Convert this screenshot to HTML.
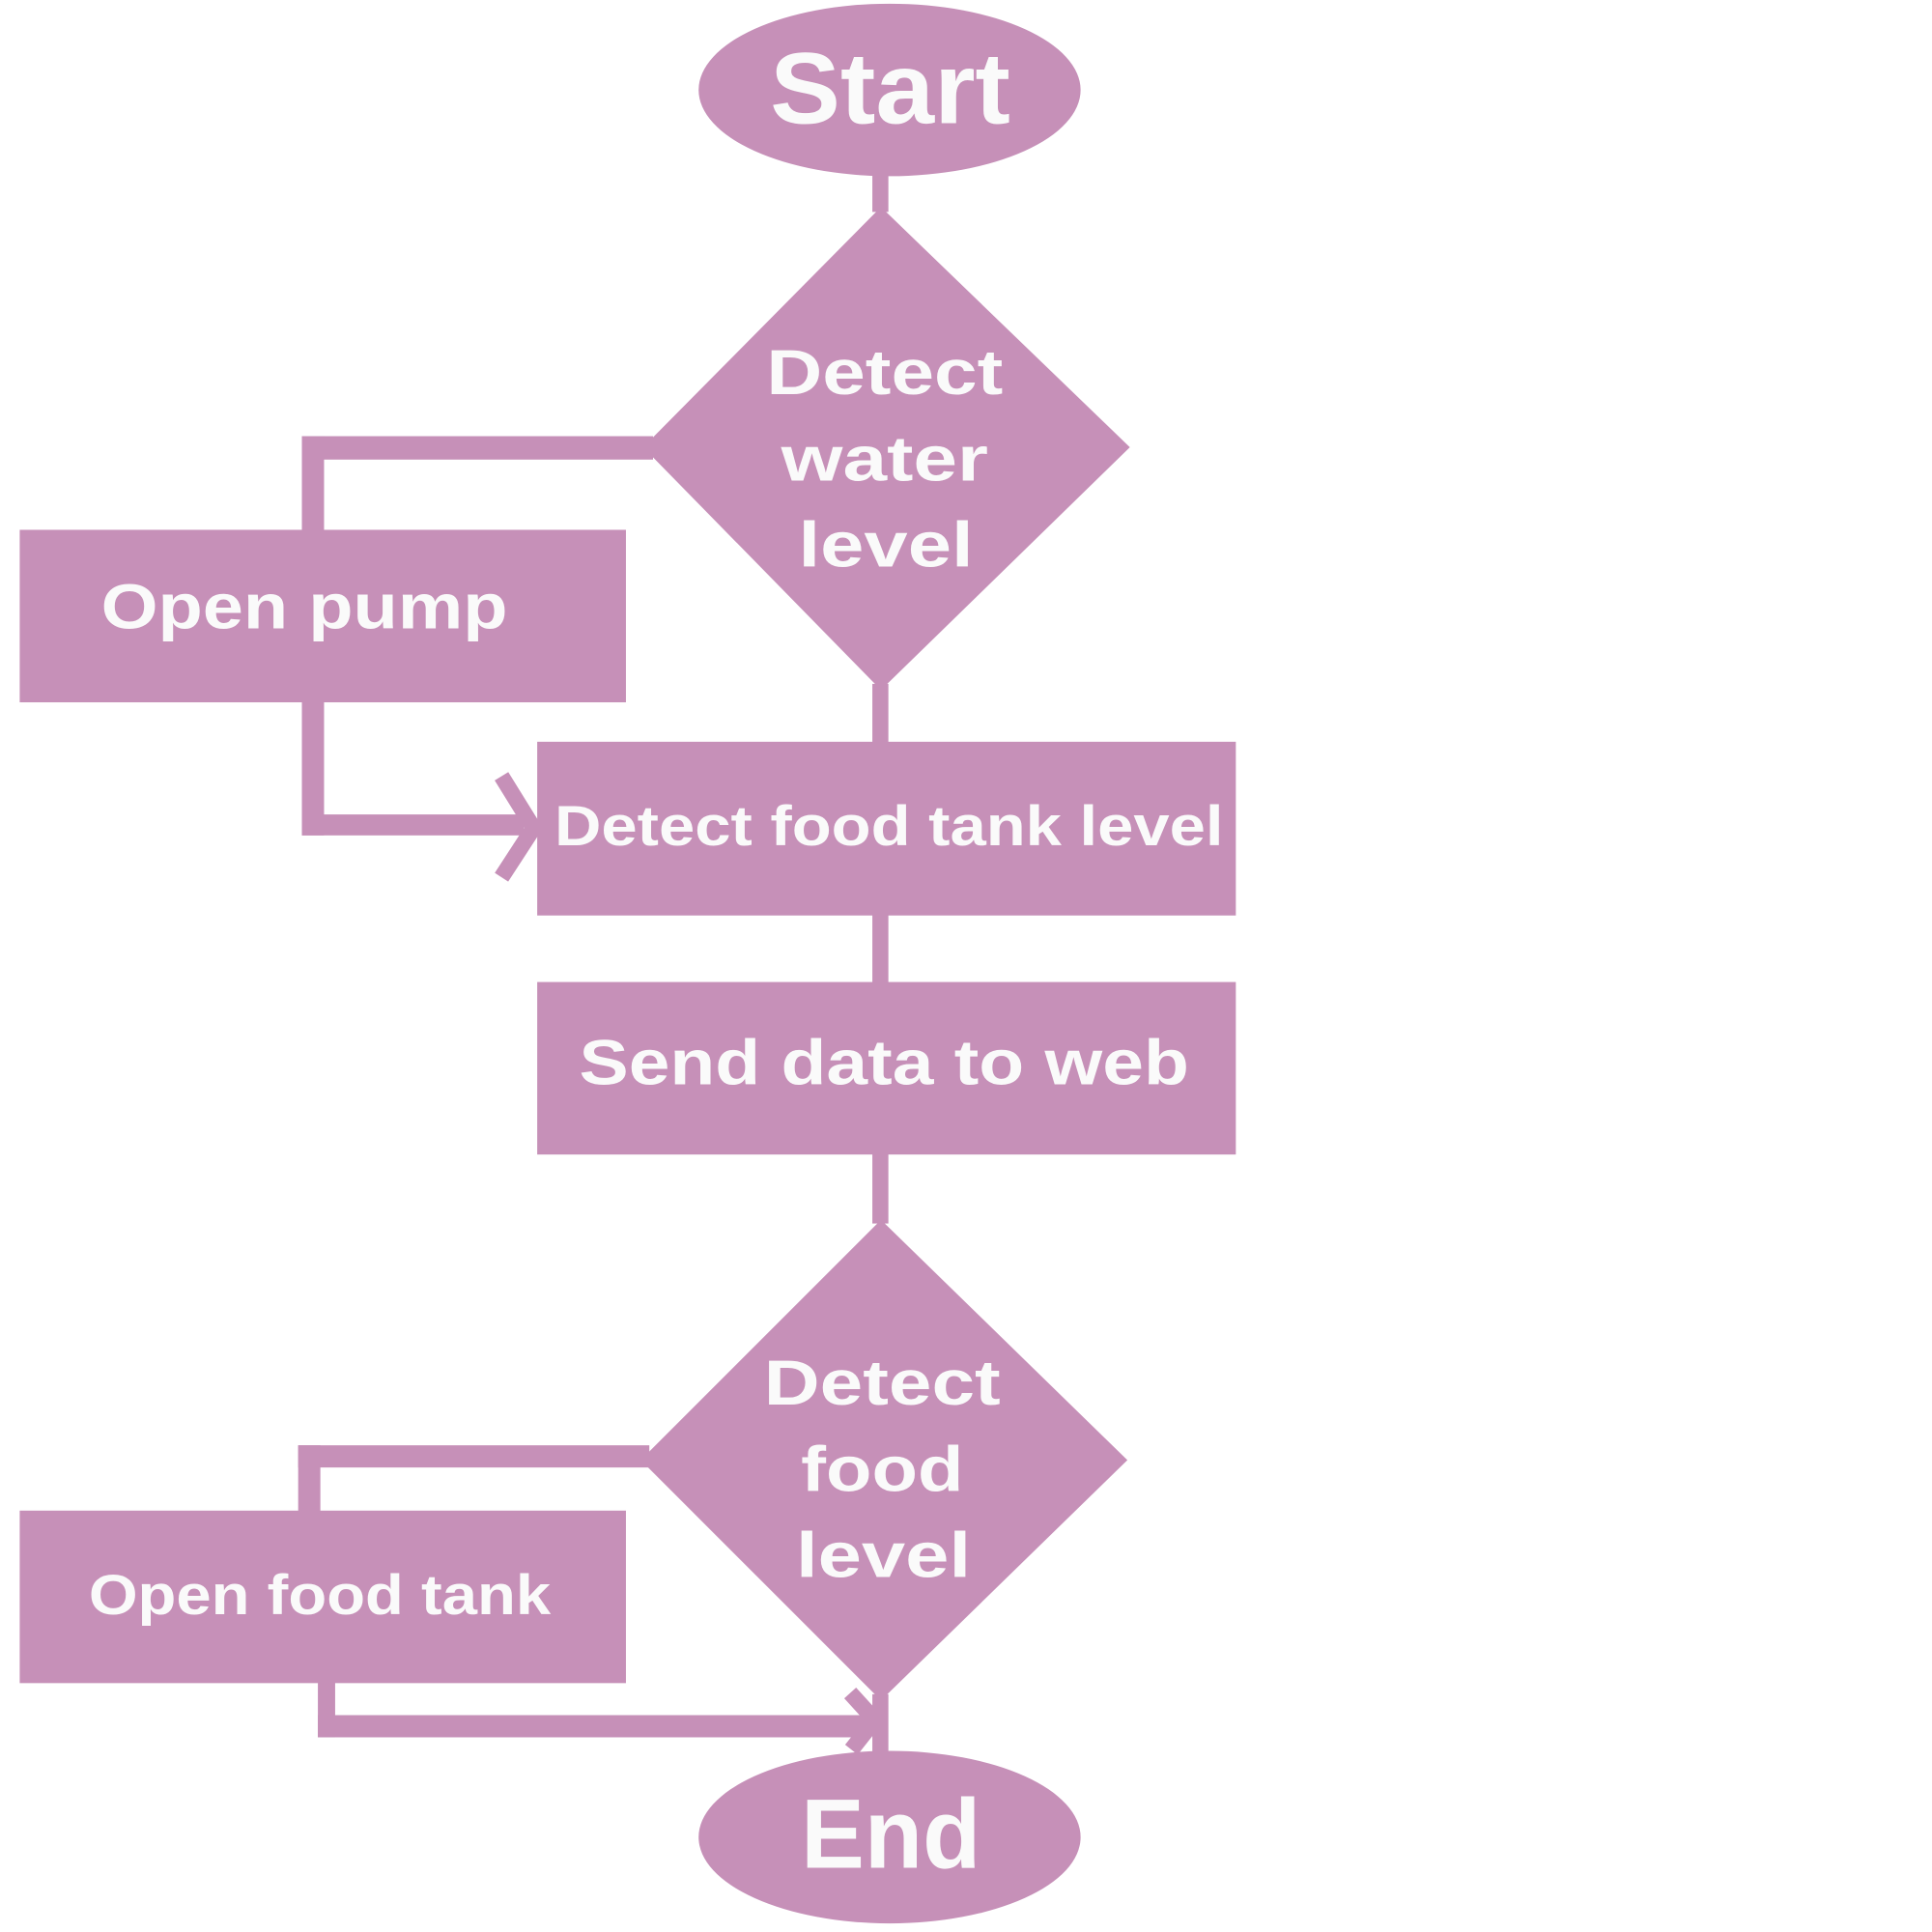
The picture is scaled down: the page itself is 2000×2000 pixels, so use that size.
<!DOCTYPE html>
<html><head><meta charset="utf-8"><style>
html,body{margin:0;padding:0;background:#fff;}
svg{display:block;}
text{font-family:"Liberation Sans",sans-serif;font-weight:bold;fill:#fafafa;}
</style></head><body>
<svg width="2000" height="2000" viewBox="0 0 1568 1568" xmlns="http://www.w3.org/2000/svg">
<g fill="#c690b8" stroke="none">
<ellipse cx="722" cy="73" rx="155" ry="70"/>
<rect x="708" y="140" width="13" height="32"/>
<polygon points="715,168 917,363 715,560 522,363"/>
<rect x="708" y="555" width="13" height="50"/>
<rect x="436" y="602" width="567" height="141"/>
<rect x="708" y="740" width="13" height="60"/>
<rect x="436" y="797" width="567" height="140"/>
<rect x="708" y="935" width="13" height="58"/>
<polygon points="715,990 915,1185 715,1380 520,1185"/>
<rect x="708" y="1375" width="13" height="50"/>
<ellipse cx="722" cy="1491" rx="155" ry="70"/>
<rect x="16" y="430" width="492" height="140"/>
<rect x="16" y="1226" width="492" height="140"/>
<rect x="245" y="354" width="285" height="19"/>
<rect x="245" y="354" width="18" height="80"/>
<rect x="245" y="568" width="18" height="110"/>
<rect x="245" y="661" width="180" height="17"/>
<rect x="242" y="1173" width="285" height="18"/>
<rect x="242" y="1173" width="18" height="56"/>
<rect x="258" y="1364" width="14" height="46"/>
<rect x="258" y="1392" width="445" height="18"/>
</g>
<g stroke="#c690b8" stroke-width="13" fill="none">
<polyline points="407,630 433,672 407,712"/>
<polyline points="690,1374 710,1396 691,1420"/>
</g>
<g lengthAdjust="spacingAndGlyphs">
<text x="625" y="100" font-size="82" textLength="195" lengthAdjust="spacingAndGlyphs">Start</text>
<text x="622" y="320" font-size="52" textLength="192" lengthAdjust="spacingAndGlyphs">Detect</text>
<text x="634" y="390" font-size="52" textLength="168" lengthAdjust="spacingAndGlyphs">water</text>
<text x="648" y="460" font-size="52" textLength="142" lengthAdjust="spacingAndGlyphs">level</text>
<text x="82" y="510" font-size="52" textLength="330" lengthAdjust="spacingAndGlyphs">Open pump</text>
<text x="450" y="686" font-size="46" textLength="543" lengthAdjust="spacingAndGlyphs">Detect food tank level</text>
<text x="470" y="880" font-size="52" textLength="495" lengthAdjust="spacingAndGlyphs">Send data to web</text>
<text x="620" y="1140" font-size="52" textLength="192" lengthAdjust="spacingAndGlyphs">Detect</text>
<text x="650" y="1210" font-size="52" textLength="132" lengthAdjust="spacingAndGlyphs">food</text>
<text x="646" y="1280" font-size="52" textLength="142" lengthAdjust="spacingAndGlyphs">level</text>
<text x="72" y="1310" font-size="46" textLength="375" lengthAdjust="spacingAndGlyphs">Open food tank</text>
<text x="650" y="1516" font-size="80" textLength="146" lengthAdjust="spacingAndGlyphs">End</text>
</g>
</svg>
</body></html>
